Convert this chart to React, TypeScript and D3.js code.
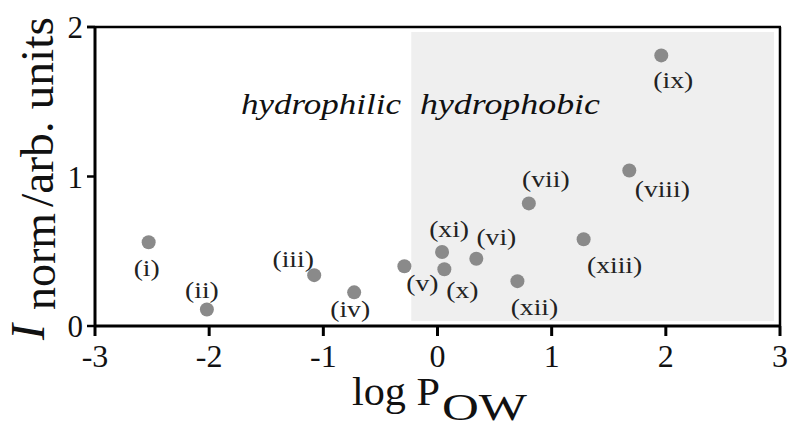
import React from "react";
import * as d3 from "d3";

const labels = ["(i)", "(ii)", "(iii)", "(iv)", "(v)", "(vi)", "(vii)", "(viii)", "(ix)", "(x)", "(xi)", "(xii)", "(xiii)"];
const logPow = [-2.53, -2.02, -1.08, -0.73, -0.29, 0.34, 0.8, 1.68, 1.96, 0.06, 0.04, 0.7, 1.28];
const iNorm = [0.56, 0.11, 0.34, 0.225, 0.4, 0.45, 0.82, 1.04, 1.81, 0.38, 0.495, 0.3, 0.58];
const xTicks = [-3, -2, -1, 0, 1, 2, 3];
const yTicks = [0, 1, 2];
const hydrophobicStart = -0.23;

// label placement offsets (px) relative to each point
const labelOffsets: [number, number][] = [
  [-2, 34], [-5, -12], [-21, -8], [-4, 25], [18, 25], [20, -14], [17, -16],
  [33, 26], [12, 33], [18, 29], [7, -15], [17, 34], [31, 34],
];

const W = 788, H = 426;
const x = d3.scaleLinear().domain([-3, 3]).range([95, 780]);
const y = d3.scaleLinear().domain([0, 2]).range([326, 27]);

const T = (props: any) => {
  const { fontSize, fontStyle, ...rest } = props;
  return <text {...rest} style={{ fontFamily: "'Liberation Serif'", fontSize: fontSize + "px", fontStyle: fontStyle || "normal" }} />;
};

export default function App() {
  return (
    <svg width={W} height={H} style={{ position: "absolute", left: 0, top: 0, background: "#fff" }}>
      <rect x={0} y={0} width={W} height={H} fill="#fff" />
      {/* shaded hydrophobic region */}
      <rect x={x(hydrophobicStart)} y={y(2) + 5} width={x(3) - 6 - x(hydrophobicStart)} height={y(0) - 5 - (y(2) + 5)} fill="#efefef" />
      {/* frame */}
      <line x1={x(-3) - 8} x2={x(3) + 1} y1={y(2)} y2={y(2)} stroke="#000" strokeWidth={2.5} />
      <line x1={x(3)} x2={x(3)} y1={y(2)} y2={y(0)} stroke="#000" strokeWidth={2.5} />
      <line x1={x(-3)} x2={x(-3)} y1={y(2) - 1} y2={y(0) + 1} stroke="#000" strokeWidth={3} />
      <line x1={x(-3)} x2={x(3) + 1} y1={y(0)} y2={y(0)} stroke="#000" strokeWidth={3} />
      {xTicks.map((t) => (
        <g key={"xt" + t}>
          <line x1={x(t)} x2={x(t)} y1={y(0)} y2={y(0) + 10} stroke="#000" strokeWidth={3} />
          <T x={x(t)} y={367} fontSize={32} textAnchor="middle" fill="#111">
            {t < 0 ? "-" + Math.abs(t) : String(t)}
          </T>
        </g>
      ))}
      {yTicks.map((t) => (
        <g key={"yt" + t}>
          <line x1={x(-3) - 8} x2={x(-3)} y1={y(t)} y2={y(t)} stroke="#000" strokeWidth={2.5} />
          <T x={83} y={y(t) + 11} fontSize={31} textAnchor="end" fill="#111">
            {String(t)}
          </T>
        </g>
      ))}
      {/* region labels */}
      <T x={241} y={114} fontStyle="italic" fontSize={29} textLength={160} lengthAdjust="spacingAndGlyphs" fill="#111">hydrophilic</T>
      <T x={420} y={114} fontStyle="italic" fontSize={29} textLength={180} lengthAdjust="spacingAndGlyphs" fill="#111">hydrophobic</T>
      {/* points */}
      {logPow.map((v, i) => (
        <circle key={"p" + i} cx={x(v)} cy={y(iNorm[i])} r={7} fill="#8a8a8a" />
      ))}
      {labels.map((l, i) => (
        <g key={"l" + i} transform={`translate(${x(logPow[i]) + labelOffsets[i][0]},${y(iNorm[i]) + labelOffsets[i][1]}) scale(1.15,1)`}>
          <T x={0} y={0} fontSize={24} textAnchor="middle" fill="#222">{l}</T>
        </g>
      ))}
      {/* x axis title */}
      <T x={352} y={405} fontSize={41} textLength={88} lengthAdjust="spacingAndGlyphs" fill="#111">log P</T>
      <T x={442} y={420} fontSize={38} textLength={85} lengthAdjust="spacingAndGlyphs" fill="#111">OW</T>
      {/* y axis title */}
      <T transform="translate(44,340) rotate(-90)" fontStyle="italic" fontSize={48} fill="#111">I</T>
      <T transform="translate(55,310) rotate(-90)" fontSize={46} textLength={97} lengthAdjust="spacingAndGlyphs" fill="#111">norm</T>
      <T transform="translate(53,207) rotate(-90)" fontSize={47} textLength={190} lengthAdjust="spacingAndGlyphs" fill="#111">/arb. units</T>
    </svg>
  );
}
